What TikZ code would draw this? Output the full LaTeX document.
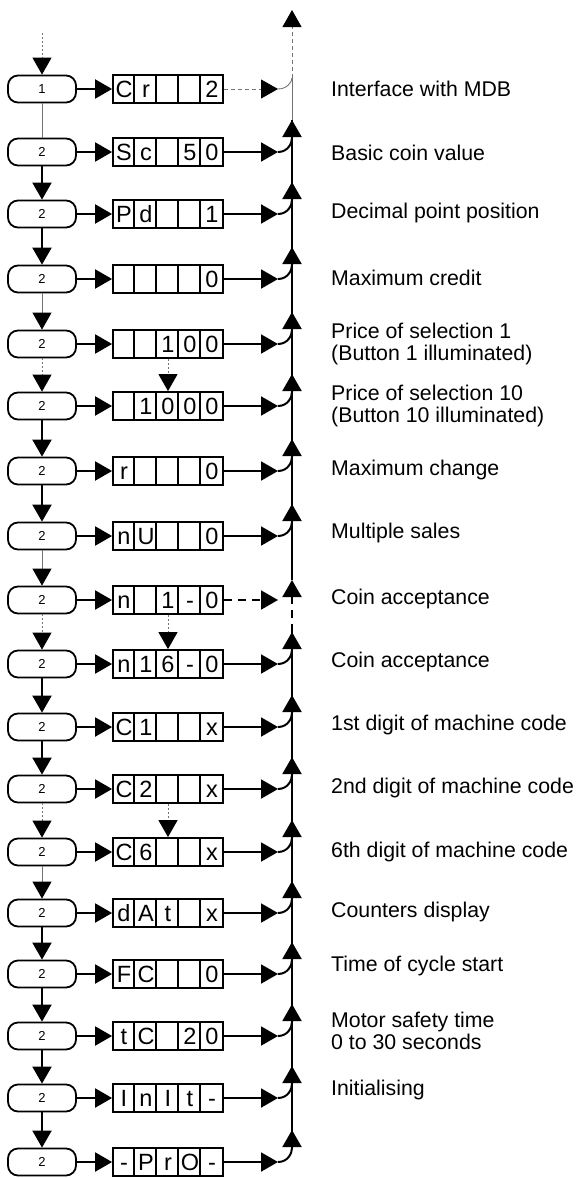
\documentclass[tikz,border=0pt]{standalone}
\usepackage{fontspec}
\setmainfont{Liberation Sans}
\usetikzlibrary{arrows.meta}
\begin{document}
\begin{tikzpicture}[x=1pt,y=-1pt,
  rbox/.style={draw, line width=1.8pt, rounded corners=10pt, minimum width=68pt, minimum height=27pt, inner sep=0pt, font=\fontsize{13}{15}\selectfont},
  dbox/.style={draw, line width=1.8pt, minimum width=110pt, minimum height=28pt, inner sep=0pt},
  ch/.style={inner sep=0pt, font=\fontsize{23.5}{27}\selectfont, text height=16.8pt, text depth=0pt},
  lbl/.style={anchor=west, inner sep=0pt, align=left, font=\fontsize{21.3}{22}\selectfont},
  thk/.style={line width=2pt},
  thn/.style={line width=0.9pt, black!55},
  dots/.style={dash pattern=on 2pt off 2pt},
  gdash/.style={dash pattern=on 4pt off 3pt},
  bdash/.style={dash pattern=on 8pt off 6pt},
  arr/.style={-{Triangle[length=17pt,width=19pt]}},
  garr/.style={-{Triangle[length=17pt,width=19pt,color=black]}}
]
\useasboundingbox (0,0) rectangle (576,1178);

\foreach \i/\y/\n/\a/\b/\c/\d/\e in {
  1/89/1/C/r/{}/{}/2,
  2/152/2/S/c/{}/5/0,
  3/214/2/P/d/{}/{}/1,
  4/279/2/{}/{}/{}/{}/0,
  5/344/2/{}/{}/1/0/0,
  6/406/2/{}/1/0/0/0,
  7/471/2/r/{}/{}/{}/0,
  8/536/2/n/U/{}/{}/0,
  9/600/2/n/{}/1/-/0,
  10/664/2/n/1/6/-/0,
  11/727/2/C/1/{}/{}/x,
  12/789/2/C/2/{}/{}/x,
  13/852/2/C/6/{}/{}/x,
  14/913/2/d/A/t/{}/x,
  15/974/2/F/C/{}/{}/0,
  16/1036/2/t/C/{}/2/0,
  17/1098/2/I/n/I/t/-,
  18/1162/2/-/P/r/O/-}{
  \node[rbox] (r\i) at (42,\y) {\n};
  \node[dbox] (b\i) at (168,\y) {};
  \foreach \k in {1,...,4}
    \draw[line width=1.8pt] ([xshift=22*\k pt]b\i.north west) -- ([xshift=22*\k pt]b\i.south west);
  \node[ch] (c\i a) at (124,\y) {\a};
  \node[ch] (c\i b) at (146,\y) {\b};
  \node[ch] (c\i c) at (168,\y) {\c};
  \node[ch] (c\i d) at (190,\y) {\d};
  \node[ch] (c\i e) at (212,\y) {\e};
  \coordinate (h\i) at (278,\y);
  \coordinate (j\i) at (292,\y-14);
  \coordinate (t\i) at (292,\y-32);
  \draw[thk,arr] (r\i) -- (b\i);
}

% row outputs joining the return line
\foreach \i in {2,3,4,5,6,7,8,10,11,12,13,14,15,16,17,18}{
  \draw[thk,arr] (b\i) -- (h\i);
  \draw[thk,arr] (h\i) .. controls +(10,0) and +(0,5) .. (j\i) -- (t\i);
}

% row 1
\coordinate (j1a) at (292,78);
\coordinate (toptip) at (292,10);
\draw[thn,gdash,garr] (b1) -- (h1);
\draw[thn] (h1) .. controls +(9,0) and +(0,4) .. (j1a);
\draw[thn,gdash,garr] (j1a) -- (toptip);
\draw[thn] (t2) -- (j1a);

% row 9
\coordinate (v9b) at (292,597);
\coordinate (v9t) at (292,580);
\draw[thk,bdash,arr] (b9) -- (h9);
\draw[thk,arr] (v9b) -- (v9t);

% main return line
\draw[thk] (j18) -- (t10);
\draw[thk,bdash] (t10) -- (v9b);
\draw[thk] (v9t) -- (t2);

% left chain
\coordinate (start) at (42,33);
\draw[thn,dots,garr] (start) -- (r1);
\draw[thn] (r1) -- (r2);
\draw[thk,arr] (r2) -- (r3);
\draw[thk,arr] (r3) -- (r4);
\draw[thn,garr] (r4) -- (r5);
\draw[thn,dots,garr] (r5) -- (r6);
\draw[thk,arr] (r6) -- (r7);
\draw[thk,arr] (r7) -- (r8);
\draw[thn,garr] (r8) -- (r9);
\draw[thn,dots,garr] (r9) -- (r10);
\draw[thk,arr] (r10) -- (r11);
\draw[thk,arr] (r11) -- (r12);
\draw[thn,dots,garr] (r12) -- (r13);
\draw[thn,garr] (r13) -- (r14);
\draw[thk,arr] (r14) -- (r15);
\draw[thk,arr] (r15) -- (r16);
\draw[thk,arr] (r16) -- (r17);
\draw[thk,arr] (r17) -- (r18);

% box to box skips
\draw[thn,dots,garr] (b5) -- (b6);
\draw[thn,dots,garr] (b9) -- (b10);
\draw[thn,dots,garr] (b12) -- (b13);

% labels
\foreach \i/\y/\t in {
  1/89/{Interface with MDB},
  2/153/{Basic coin value},
  3/213/{Decimal point position},
  4/278/{Maximum credit},
  5/344/{Price of selection 1\\(Button 1 illuminated)},
  6/406/{Price of selection 10\\(Button 10 illuminated)},
  7/470/{Maximum change},
  8/533/{Multiple sales},
  9/599/{Coin acceptance},
  10/662/{Coin acceptance},
  11/725/{1st digit of machine code},
  12/788/{2nd digit of machine code},
  13/852/{6th digit of machine code},
  14/912/{Counters display},
  15/966/{Time of cycle start},
  16/1031/{Motor safety time\\0 to 30 seconds},
  17/1090/{Initialising}}{
  \node[lbl] (l\i) at (331,\y) {\t};
}
\end{tikzpicture}
\end{document}
